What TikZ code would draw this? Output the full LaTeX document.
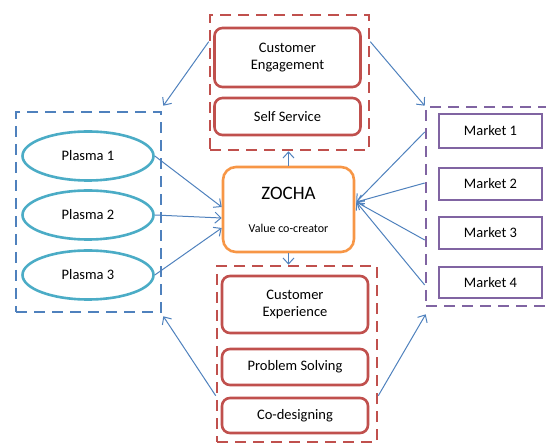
\documentclass[tikz,border=0pt]{standalone}
\usepackage{fontspec}
\setmainfont{Carlito}
\usetikzlibrary{shapes.geometric,arrows.meta,calc}
\definecolor{zred}{RGB}{192,80,77}
\definecolor{zblue}{RGB}{79,129,189}
\definecolor{zpurple}{RGB}{128,100,162}
\definecolor{zteal}{RGB}{75,172,198}
\definecolor{zorange}{RGB}{247,150,70}
\tikzstyle{grpred}=[draw=zred,line width=2.6pt,dash pattern=on 11pt off 7pt,inner sep=0pt]
\tikzstyle{grpblue}=[draw=zblue,line width=2.6pt,dash pattern=on 11pt off 7pt,inner sep=0pt]
\tikzstyle{grppurple}=[draw=zpurple,line width=2.6pt,dash pattern=on 11pt off 7pt,inner sep=0pt]
\tikzstyle{boxred}=[draw=zred,line width=2.6pt,rounded corners=8pt,minimum width=146pt,align=center,inner sep=0pt,font=\fontsize{14.5}{17}\selectfont]
\tikzstyle{plasma}=[draw=zteal,line width=2.6pt,ellipse,minimum width=131pt,minimum height=49pt,inner sep=0pt,font=\fontsize{14.5}{17}\selectfont]
\tikzstyle{market}=[draw=zpurple,line width=2.6pt,minimum width=103pt,minimum height=32pt,inner sep=0pt,font=\fontsize{14.5}{17}\selectfont]
\tikzstyle{link}=[draw=zblue,line width=1pt,-{Straight Barb[length=6pt,width=11pt]}]

\begin{document}
\begin{tikzpicture}[x=1pt,y=-1pt]
    \useasboundingbox (0,0) rectangle (546,443);
    % top group
    \node[grpred,minimum width=159pt,minimum height=135pt] (topgrp) at (289.5,82.5) {};
    \node[boxred,minimum height=59pt] (eng) at (287.5,57.5) {Customer\\Engagement};
    \node[boxred,minimum height=37pt] (self) at (287.5,116.5) {Self Service};
    % plasma group
    \node[grpblue,minimum width=145pt,minimum height=200pt] (plasmagrp) at (88.5,212) {};
    \node[plasma] (p1) at (88,156) {Plasma 1};
    \node[plasma] (p2) at (88,215) {Plasma 2};
    \node[plasma] (p3) at (88,275) {Plasma 3};
    % centre
    \node[draw=zorange,line width=2.6pt,rounded corners=13pt,minimum width=131pt,minimum height=85pt,align=center,inner sep=0pt] (zocha) at (288.5,209.5)
        {{\fontsize{19}{21}\selectfont ZOCHA}\\[21pt]{\fontsize{12}{14}\selectfont Value co-creator}};
    % market group
    \node[grppurple,minimum width=124pt,minimum height=199pt] (mktgrp) at (488,206.5) {};
    \node[market,minimum height=34pt] (m1) at (490.5,131) {Market 1};
    \node[market] (m2) at (490.5,184) {Market 2};
    \node[market] (m3) at (490.5,233) {Market 3};
    \node[market,minimum height=31pt] (m4) at (490.5,282.5) {Market 4};
    % bottom group
    \node[grpred,minimum width=160pt,minimum height=176pt] (botgrp) at (297,354) {};
    \node[boxred,minimum height=57pt] (cx) at (295,304.5) {Customer\\Experience};
    \node[boxred,minimum height=36pt] (ps) at (295,367) {Problem Solving};
    \node[boxred,minimum height=35pt] (cd) at (295,415.5) {Co-designing};

    \draw[link] ([yshift=-28pt]topgrp.north west) -- ([shift={(1pt,5pt)}]plasmagrp.north east);
    \draw[link] ([yshift=-28pt]topgrp.north east) -- (mktgrp.north west);
    \draw[link] (zocha.north) -- (zocha.north |- topgrp.south);
    \draw[link] (zocha.south) -- (zocha.south |- botgrp.north);
    \draw[link] ([yshift=-131pt]botgrp.north west) -- ([shift={(1pt,-3pt)}]plasmagrp.south east);
    \draw[link] ([yshift=-131pt]botgrp.north east) -- ([shift={(1pt,-7pt)}]mktgrp.south west);
    \foreach \p/\s in {p1/2.5,p2/-8.5,p3/-18.5}
    \draw[link] (\p.east) -- ([yshift=\s pt]zocha.west);
    \foreach \m/\s in {m1/1,m2/-1,m3/7,m4/2.5}
    \draw[link] ($(mktgrp.west |- \m)+(0,\s)$) -- ([shift={(1pt,7.5pt)}]zocha.east);
\end{tikzpicture}
\end{document}
